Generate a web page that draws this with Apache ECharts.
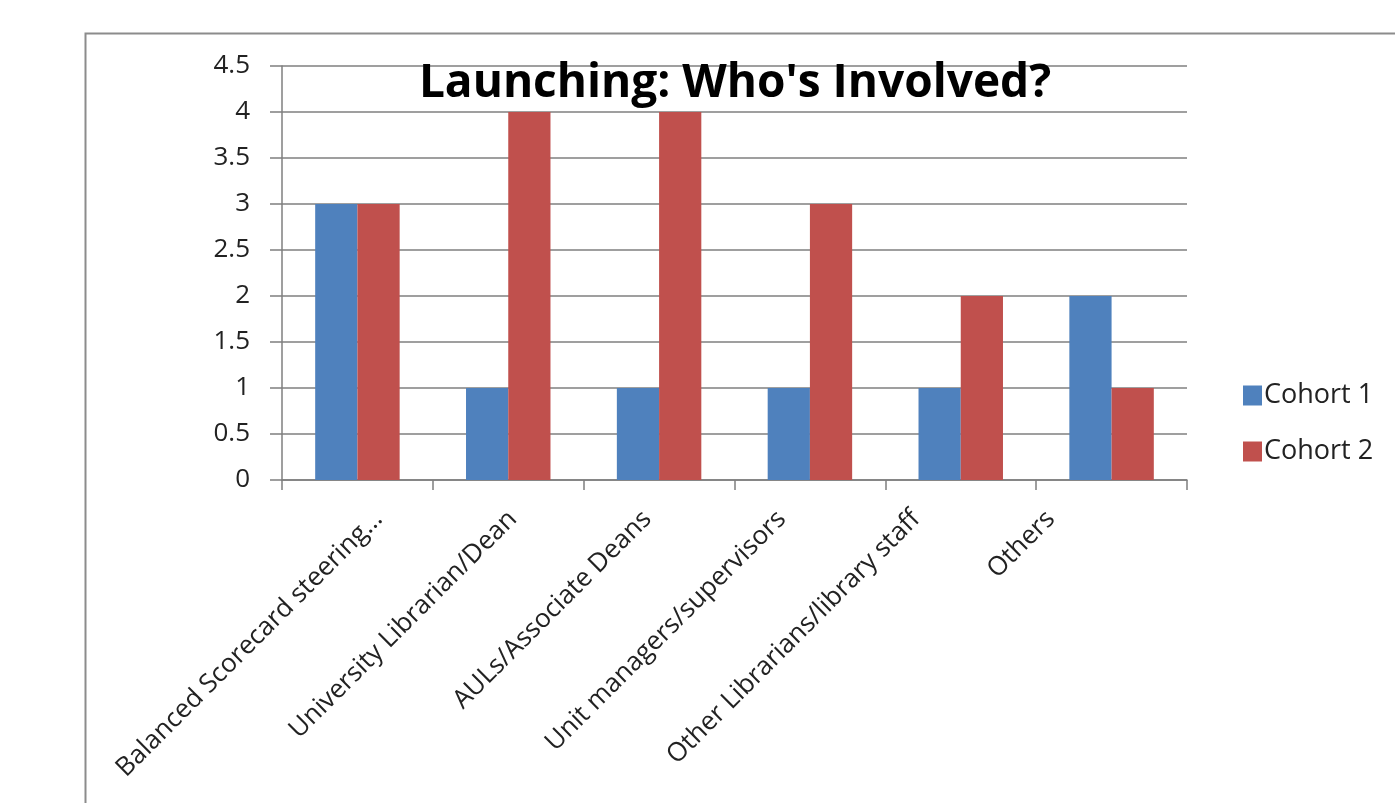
<!DOCTYPE html>
<html>
<head>
<meta charset="utf-8">
<script src="https://cdn.jsdelivr.net/npm/echarts@6/dist/echarts.min.js"></script>
<style>
  html, body { margin: 0; padding: 0; background: #fff; }
  #main { width: 1395px; height: 803px; }
</style>
</head>
<body>
<div id="main"></div>
<script>
const categories = [
  "Balanced Scorecard steering…",
  "University Librarian/Dean",
  "AULs/Associate Deans",
  "Unit managers/supervisors",
  "Other Librarians/library staff",
  "Others"
];
const cohort1 = [3, 1, 1, 1, 1, 2];
const cohort2 = [3, 4, 4, 3, 2, 1];
const seriesNames = ["Cohort 1", "Cohort 2"];

const font = "'Open Sans', sans-serif";
const chart = echarts.init(document.getElementById("main"));

// the source picture places rotated labels a bit tighter than the bars,
// so labels sit on their own (invisible) category axis
const option = {
  animation: false,
  backgroundColor: "#fff",
  title: {
    text: "Launching: Who's Involved?",
    left: 730,
    textAlign: "center",
    top: 56,
    textStyle: { fontFamily: font, fontWeight: "bold", fontSize: 46, color: "#000" }
  },
  legend: {
    orient: "vertical",
    left: 1238,
    top: 377,
    itemWidth: 19,
    itemHeight: 20,
    itemGap: 29,
    icon: "rect",
    data: seriesNames,
    textStyle: { fontFamily: font, fontSize: 27, color: "#222", padding: [0, 0, 0, -3] }
  },
  grid: [
    { left: 282, right: 1395 - 1187, top: 66, bottom: 803 - 480 },
    { left: 311, right: 1395 - 1118, top: 66, bottom: 803 - 480 }
  ],
  xAxis: [
    {
      type: "category",
      gridIndex: 0,
      data: categories,
      axisLine: { lineStyle: { color: "#7f7f7f", width: 1.5 } },
      axisTick: { show: true, interval: 0, length: 10, lineStyle: { color: "#7f7f7f", width: 1.5 } },
      axisLabel: { show: false }
    },
    {
      type: "category",
      gridIndex: 1,
      data: categories,
      axisLine: { show: false },
      axisTick: { show: false },
      axisLabel: {
        rotate: 45,
        interval: 0,
        margin: 35,
        fontFamily: font,
        fontSize: 26,
        color: "#222"
      }
    }
  ],
  yAxis: [
    {
      type: "value",
      gridIndex: 0,
      min: 0,
      max: 4.5,
      interval: 0.5,
      axisLine: { show: true, lineStyle: { color: "#7f7f7f", width: 1.5 } },
      axisTick: { show: true, length: 12, lineStyle: { color: "#7f7f7f", width: 1.5 } },
      axisLabel: { fontFamily: font, fontSize: 26, color: "#222", margin: 32 },
      splitLine: { lineStyle: { color: "#7f7f7f", width: 1.5 } }
    },
    {
      type: "value",
      gridIndex: 1,
      show: false
    }
  ],
  series: [
    {
      name: seriesNames[0],
      type: "bar",
      data: cohort1,
      barGap: "0%",
      barCategoryGap: "44%",
      itemStyle: { color: "#4f81bd" }
    },
    {
      name: seriesNames[1],
      type: "bar",
      data: cohort2,
      itemStyle: { color: "#c0504d" }
    }
  ],
  graphic: [
    {
      type: "rect",
      left: 83,
      top: 31,
      z: -10,
      shape: { width: 1400, height: 800 },
      style: { fill: "none", stroke: "#8c8c8c", lineWidth: 2 }
    }
  ]
};

chart.setOption(option);
</script>
</body>
</html>
